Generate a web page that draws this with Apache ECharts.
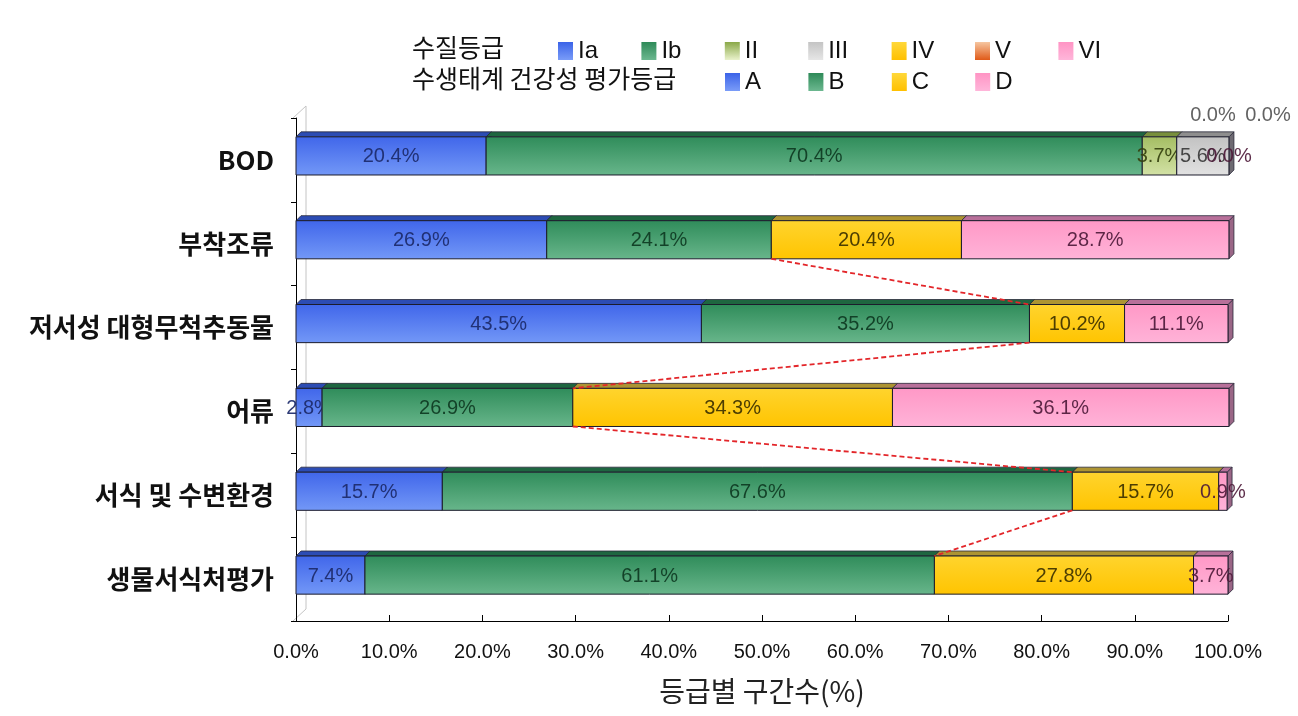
<!DOCTYPE html>
<html>
<head>
<meta charset="utf-8">
<script src="https://cdn.jsdelivr.net/npm/echarts@6/dist/echarts.min.js"></script>
<style>
html,body{margin:0;padding:0;background:#fff;}
#chart{width:1298px;height:716px;}
</style>
</head>
<body>
<div id="chart"></div>
<script>
// ---------------- data ----------------
const categories = ['BOD', '부착조류', '저서성 대형무척추동물', '어류', '서식 및 수변환경', '생물서식처평가'];
const waterGradeNames = ['Ia', 'Ib', 'II', 'III', 'IV', 'V', 'VI'];
const bodValues = [20.4, 70.4, 3.7, 5.6, 0.0, 0.0, 0.0];
const ecoGradeNames = ['A', 'B', 'C', 'D'];
const algaeValues = [26.9, 24.1, 20.4, 28.7];
const benthicValues = [43.5, 35.2, 10.2, 11.1];
const fishValues = [2.8, 26.9, 34.3, 36.1];
const habitatValues = [15.7, 67.6, 15.7, 0.9];
const habitatEvalValues = [7.4, 61.1, 27.8, 3.7];
const xTickValues = [0, 10, 20, 30, 40, 50, 60, 70, 80, 90, 100];

// ---------------- styles ----------------
const KR = '"Noto Sans CJK KR", sans-serif';
const NUM = '"Liberation Sans", Arial, sans-serif';
const G = (c1, c2) => new echarts.graphic.LinearGradient(0, 0, 0, 1, [{offset: 0, color: c1}, {offset: 1, color: c2}]);
const palette = {
  blue:   {front: ['#4066ea', '#7398f7'], top: '#2c4cb4', side: '#24409a', label: '#1c2a6a', icon: ['#3b63e8', '#7a9cf8']},
  green:  {front: ['#2f8c5a', '#68b68b'], top: '#1e6640', side: '#1a5535', label: '#0e3a22', icon: ['#2e8a58', '#6cb890']},
  lgreen: {front: ['#a4bd62', '#d3e2a6'], top: '#788f3c', side: '#657a30', label: '#34400e', icon: ['#8aa848', '#eaf2cc']},
  grey:   {front: ['#c2c2c2', '#e2e2e2'], top: '#8e8e8e', side: '#6e6a72', label: '#3a3a3a', icon: ['#c4c4c4', '#e6e6e6']},
  yellow: {front: ['#ffd42e', '#ffc400'], top: '#ad9432', side: '#8d7a2a', label: '#3e3200', icon: ['#ffd83a', '#ffc000']},
  orange: {front: ['#f4b88c', '#e2621e'], top: '#a44a1a', side: '#8a3c14', label: '#4a1c00', icon: ['#f6c6a0', '#e05a18']},
  pink:   {front: ['#ff98c6', '#ffb3d8'], top: '#b8709a', side: '#9a6686', label: '#4e1a3a', icon: ['#ff94c4', '#ffb6da']}
};
const gradeStyle = {Ia: 'blue', Ib: 'green', II: 'lgreen', III: 'grey', IV: 'yellow', V: 'orange', VI: 'pink',
                    A: 'blue', B: 'green', C: 'yellow', D: 'pink'};
const zeroLabelOffset = {IV: [-16, -41], V: [39, -41]};

// ---------------- build stacked segments ----------------
function stack(values) {
  let acc = 0;
  return values.map(v => { const s = acc; acc += v; return [s, acc, v]; });
}
const bodStack = stack(bodValues);
const ecoRows = [algaeValues, benthicValues, fishValues, habitatValues, habitatEvalValues];
const ecoStacks = ecoRows.map(stack);

const BAR_RATIO = 0.455, DEPTH = 5, LIFT = 4;

function makeRender(name) {
  const st = palette[gradeStyle[name]];
  return function (params, api) {
    const cat = api.value(0), s = api.value(1), e = api.value(2), v = api.value(3);
    const a = api.coord([s, cat]), b = api.coord([e, cat]);
    const band = api.size([0, 1])[1];
    const h = band * BAR_RATIO;
    const x0 = a[0], x1 = b[0], yc = a[1] - LIFT, y0 = yc - h / 2, d = DEPTH;
    const children = [];
    if (v > 0) {
      children.push({type: 'polygon', shape: {points: [[x1, y0], [x1 + d, y0 - d], [x1 + d, y0 + h - d], [x1, y0 + h]]},
        style: {fill: st.side, stroke: '#2a2a3a', lineWidth: 0.8}});
      children.push({type: 'polygon', shape: {points: [[x0, y0], [x0 + d, y0 - d], [x1 + d, y0 - d], [x1, y0]]},
        style: {fill: st.top, stroke: '#2a2a3a', lineWidth: 0.8}});
      children.push({type: 'rect', shape: {x: x0, y: y0, width: x1 - x0, height: h},
        style: {fill: G(st.front[0], st.front[1]), stroke: '#1c1c2c', lineWidth: 1}});
    }
    const off = (v === 0 && zeroLabelOffset[name]) ? zeroLabelOffset[name] : [0, 0];
    children.push({type: 'text', x: (x0 + x1) / 2 + off[0], y: yc + off[1] + 1,
      style: {text: v.toFixed(1) + '%', fill: v === 0 && off[1] !== 0 ? '#555' : st.label, opacity: 0.92,
        font: '20px ' + NUM, align: 'center', verticalAlign: 'middle'}});
    return {type: 'group', children};
  };
}

const series = [];
waterGradeNames.forEach((n, i) => {
  const seg = bodStack[i];
  series.push({
    name: n, type: 'custom', renderItem: makeRender(n),
    itemStyle: {color: G(palette[gradeStyle[n]].icon[0], palette[gradeStyle[n]].icon[1])},
    encode: {x: [1, 2], y: 0},
    data: [[0, seg[0], seg[1], seg[2]]], z: 2
  });
});
ecoGradeNames.forEach((n, j) => {
  series.push({
    name: n, type: 'custom', renderItem: makeRender(n),
    itemStyle: {color: G(palette[gradeStyle[n]].icon[0], palette[gradeStyle[n]].icon[1])},
    encode: {x: [1, 2], y: 0},
    data: ecoStacks.map((st, k) => [k + 1, st[j][0], st[j][1], st[j][2]]), z: 2
  });
});

// red dashed connectors between C-grade starts of consecutive eco bars
const cIndex = ecoGradeNames.indexOf('C');
const connectorData = [];
for (let k = 0; k < ecoStacks.length - 1; k++) {
  connectorData.push([k + 1, ecoStacks[k][cIndex][0], k + 2, ecoStacks[k + 1][cIndex][0]]);
}
series.push({
  name: 'connector', type: 'custom', z: 5, silent: true,
  encode: {x: [1, 3], y: [0, 2]},
  data: connectorData,
  renderItem: function (params, api) {
    const p0 = api.coord([api.value(1), api.value(0)]);
    const p1 = api.coord([api.value(3), api.value(2)]);
    const h = api.size([0, 1])[1] * BAR_RATIO;
    return {type: 'line', shape: {x1: p0[0], y1: p0[1] - LIFT + h / 2, x2: p1[0], y2: p1[1] - LIFT - h / 2},
      style: {stroke: '#e3262a', lineWidth: 1.8, lineDash: [5, 3]}};
  }
});

// one legend component per entry so the columns line up like the original
const LEG_STEP = 83.4;
const legends = [];
function addLegend(name, left, top) {
  legends.push({
    data: [name], left: left, top: top, orient: 'horizontal', icon: 'rect',
    itemWidth: 15, itemHeight: 18, selectedMode: false, padding: 0,
    textStyle: {fontSize: 24, fontFamily: NUM, color: '#111'}
  });
}
waterGradeNames.forEach((n, i) => addLegend(n, 558 + i * LEG_STEP, 39));
ecoGradeNames.forEach((n, j) => addLegend(n, 725 + j * LEG_STEP, 70));

const chart = echarts.init(document.getElementById('chart'), null, {renderer: 'canvas'});
chart.setOption({
  backgroundColor: '#fff',
  animation: false,
  graphic: [
    {type: 'text', left: 412, top: 35, style: {text: '수질등급', font: '25px ' + KR, fill: '#111'}},
    {type: 'text', left: 412, top: 66, style: {text: '수생태계 건강성 평가등급', font: '25px ' + KR, fill: '#111'}},
    {type: 'polyline', silent: true, shape: {points: [[293, 118], [306, 106], [306, 609], [293, 621]]},
      style: {stroke: '#c4c4c4', lineWidth: 1, fill: null}}
  ],
  legend: legends,
  grid: {left: 296, right: 70, top: 118, bottom: 95, containLabel: false},
  xAxis: {
    type: 'value', min: xTickValues[0], max: xTickValues[xTickValues.length - 1], interval: 10,
    axisLine: {show: true, lineStyle: {color: '#000', width: 1}},
    axisTick: {show: true, inside: true, length: 6, lineStyle: {color: '#000'}},
    splitLine: {show: false},
    axisLabel: {formatter: v => v.toFixed(1) + '%', fontSize: 20, fontFamily: NUM, color: '#111', margin: 21},
    name: '등급별 구간수(%)', nameLocation: 'middle', nameGap: 56,
    nameTextStyle: {fontSize: 28, fontFamily: KR, color: '#222'}
  },
  yAxis: {
    type: 'category', data: categories, inverse: true, offset: 3,
    axisLine: {show: true, lineStyle: {color: '#000', width: 1}},
    axisTick: {show: true, length: 5, lineStyle: {color: '#000'}},
    axisLabel: {fontSize: 26, fontWeight: 'bold', fontFamily: KR, color: '#111', margin: 19}
  },
  series: series
});
</script>
</body>
</html>
